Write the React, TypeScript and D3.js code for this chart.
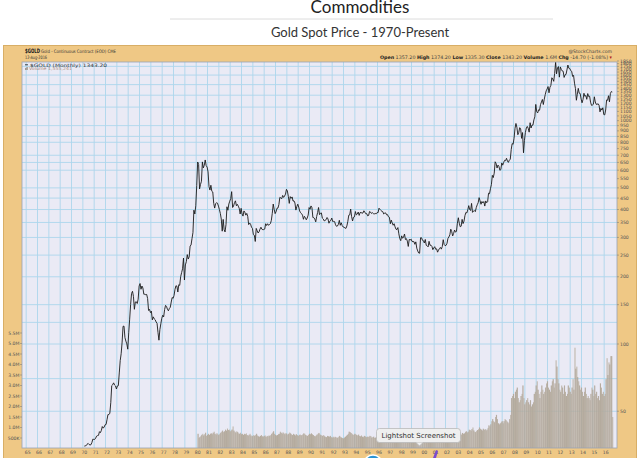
import React from "react";
import * as d3 from "d3";

// Monthly closes, $/oz (each array starts in January of its decade)
const gold1970s = [
  34.9, 35.0, 35.1, 35.6, 35.9, 35.5, 35.3, 35.4, 36.2, 37.5, 37.4, 37.4,
  37.9, 38.7, 38.9, 39.0, 40.5, 40.1, 41.0, 42.7, 42.0, 42.5, 43.5, 43.6,
  45.8, 48.3, 48.3, 49.0, 54.6, 65.1, 65.7, 67.0, 65.5, 64.9, 62.9, 64.9,
  65.1, 74.2, 84.4, 90.5, 102.0, 120.0, 120.2, 106.8, 103.0, 100.1, 94.8, 112.3,
  129.2, 150.2, 168.4, 172.2, 163.3, 143.0, 154.1, 154.6, 151.8, 158.8, 181.8, 186.5,
  175.8, 181.8, 178.2, 167.0, 167.0, 166.3, 166.7, 159.8, 141.3, 142.9, 138.2, 140.3,
  128.2, 132.3, 129.6, 128.4, 125.5, 123.8, 112.5, 104.0, 116.0, 123.2, 130.3, 134.5,
  132.3, 142.8, 148.9, 147.3, 143.0, 140.8, 144.1, 146.0, 154.1, 161.5, 160.1, 164.9,
  175.8, 182.3, 181.6, 170.9, 184.2, 183.1, 200.3, 208.7, 217.1, 242.6, 193.4, 226.0,
  233.7, 251.3, 240.1, 245.3, 274.6, 277.5, 296.5, 315.1, 397.3, 382.0, 415.7, 512.0,
];
const gold1980s = [
  653.0, 637.0, 494.5, 518.0, 535.5, 653.5, 614.3, 631.3, 666.8, 629.0, 619.8, 589.8,
  506.5, 489.0, 513.8, 482.8, 479.3, 426.0, 406.0, 425.5, 428.8, 427.0, 414.5, 400.0,
  384.3, 362.6, 320.0, 361.3, 325.3, 317.5, 342.8, 411.5, 397.0, 423.3, 436.0, 448.0,
  481.0, 408.5, 414.8, 429.3, 437.5, 416.0, 422.0, 414.3, 405.0, 382.0, 405.0, 382.0,
  373.8, 394.3, 388.5, 377.5, 384.3, 373.1, 342.4, 348.3, 343.8, 333.5, 329.0, 309.0,
  306.7, 287.8, 329.3, 321.4, 314.0, 317.8, 327.0, 333.3, 326.5, 325.1, 325.3, 327.0,
  345.5, 339.3, 345.5, 340.1, 342.5, 345.8, 357.5, 384.7, 423.2, 401.0, 383.5, 391.0,
  405.5, 405.9, 421.0, 453.3, 451.0, 447.3, 462.5, 453.4, 459.5, 468.8, 492.5, 484.1,
  458.0, 426.2, 457.0, 449.0, 455.5, 436.6, 437.4, 427.8, 397.7, 412.4, 422.6, 410.3,
  394.0, 387.0, 383.2, 377.6, 361.8, 373.0, 368.3, 359.8, 366.5, 377.6, 408.2, 401.0,
];
const gold1990s = [
  415.1, 407.7, 368.5, 367.8, 363.1, 352.2, 372.3, 387.8, 408.4, 379.5, 384.9, 386.2,
  366.0, 362.7, 355.7, 357.8, 360.4, 368.4, 362.9, 347.4, 354.9, 358.0, 366.3, 353.2,
  354.1, 353.1, 341.7, 336.4, 337.5, 343.4, 357.9, 340.0, 349.0, 339.3, 334.2, 333.3,
  330.5, 329.4, 337.8, 354.3, 377.3, 378.5, 401.8, 371.6, 355.5, 369.6, 370.9, 391.8,
  378.6, 381.6, 389.8, 376.5, 387.6, 388.3, 384.9, 386.0, 394.9, 389.1, 383.1, 383.3,
  374.9, 376.4, 392.0, 389.8, 384.3, 387.1, 383.4, 382.4, 384.0, 382.7, 387.8, 387.0,
  405.6, 400.7, 396.4, 392.9, 391.3, 382.0, 385.3, 386.5, 379.0, 379.5, 371.3, 369.3,
  345.5, 358.6, 348.2, 340.2, 345.6, 334.6, 326.4, 325.4, 332.1, 311.4, 296.8, 290.2,
  304.9, 297.4, 301.0, 310.7, 293.6, 296.3, 288.9, 273.4, 293.9, 292.3, 294.7, 287.8,
  287.1, 287.3, 279.5, 286.6, 268.6, 261.0, 255.6, 254.8, 299.0, 299.1, 291.4, 290.3,
];
const gold2000s = [
  283.3, 293.7, 276.8, 275.1, 272.3, 288.2, 276.8, 277.0, 273.7, 264.5, 269.1, 272.7,
  265.6, 266.7, 257.7, 263.2, 267.5, 270.6, 265.9, 273.0, 293.1, 279.0, 275.5, 276.5,
  282.3, 296.9, 301.4, 308.2, 326.6, 318.5, 304.7, 312.8, 323.7, 316.9, 319.1, 347.2,
  367.5, 347.5, 334.9, 336.8, 361.4, 346.0, 354.8, 375.6, 388.0, 386.3, 398.4, 416.3,
  400.0, 395.9, 426.0, 388.5, 393.3, 395.8, 391.4, 408.4, 420.1, 429.0, 452.1, 438.0,
  422.2, 434.5, 428.1, 434.3, 414.5, 437.1, 429.0, 433.3, 473.3, 470.8, 495.7, 517.0,
  568.8, 556.0, 582.0, 654.5, 643.0, 613.5, 632.5, 623.5, 599.3, 603.8, 646.7, 632.0,
  650.5, 664.2, 661.8, 678.5, 659.1, 650.5, 665.5, 672.0, 743.0, 789.5, 783.5, 833.8,
  923.3, 971.5, 933.5, 865.0, 885.8, 930.3, 918.0, 833.0, 884.5, 718.0, 816.1, 884.3,
  927.3, 942.0, 924.0, 888.2, 978.8, 927.0, 955.5, 955.5, 1008.0, 1040.5, 1182.0, 1096.5,
];
const gold2010s = [
  1083, 1118, 1113, 1180, 1212, 1244, 1181, 1248, 1307, 1359, 1386, 1421,
  1333, 1411, 1439, 1556, 1536, 1500, 1628, 1828, 1620, 1722, 1746, 1566,
  1740, 1697, 1669, 1664, 1561, 1604, 1610, 1687, 1774, 1717, 1712, 1675,
  1663, 1578, 1595, 1472, 1393, 1234, 1313, 1395, 1327, 1323, 1250, 1202,
  1244, 1326, 1284, 1296, 1246, 1322, 1282, 1287, 1210, 1171, 1175, 1184,
  1279, 1212, 1183, 1184, 1190, 1172, 1095, 1135, 1115, 1142, 1065, 1061,
  1116, 1238, 1234, 1293, 1214, 1322, 1350, 1343.2,
];

// Monthly volume, thousands of contracts (starting January 1980)
const vol1980s = [
  700, 500, 550, 600, 650, 700, 620, 680, 750, 600, 650, 700,
  650, 700, 720, 680, 750, 800, 700, 650, 720, 680, 640, 700,
  750, 800, 850, 780, 820, 900, 850, 950, 880, 900, 820, 860,
  900, 1050, 850, 800, 760, 820, 780, 720, 700, 750, 680, 700,
  650, 700, 680, 720, 640, 600, 650, 700, 620, 580, 600, 640,
  600, 650, 700, 620, 580, 560, 600, 640, 580, 560, 600, 620,
  550, 600, 580, 620, 600, 640, 700, 760, 820, 700, 650, 620,
  640, 680, 700, 800, 750, 700, 760, 720, 680, 740, 700, 650,
  700, 760, 720, 680, 640, 700, 660, 620, 680, 640, 600, 640,
  660, 620, 640, 680, 720, 700, 640, 620, 600, 650, 700, 680,
];
const vol1990s = [
  720, 680, 640, 600, 580, 620, 660, 700, 740, 680, 640, 620,
  600, 640, 580, 560, 540, 600, 580, 560, 600, 540, 520, 560,
  520, 560, 540, 500, 520, 560, 600, 540, 520, 500, 480, 520,
  560, 600, 650, 700, 800, 780, 740, 700, 660, 640, 700, 680,
  640, 620, 660, 600, 580, 620, 560, 540, 600, 580, 540, 560,
  560, 540, 600, 580, 520, 540, 560, 500, 520, 540, 480, 500,
  560, 600, 520, 500, 480, 520, 500, 480, 460, 500, 480, 460,
  520, 560, 500, 480, 520, 540, 580, 500, 480, 560, 520, 500,
  560, 520, 500, 480, 460, 500, 480, 540, 560, 520, 480, 500,
  520, 480, 460, 500, 560, 600, 580, 540, 700, 640, 560, 500,
];
const vol2000s = [
  540, 600, 520, 480, 460, 500, 460, 440, 480, 460, 500, 520,
  500, 480, 460, 520, 540, 500, 480, 520, 600, 520, 500, 540,
  560, 620, 600, 640, 700, 680, 640, 600, 660, 620, 600, 720,
  800, 760, 700, 660, 740, 700, 720, 780, 820, 760, 800, 900,
  880, 840, 920, 1000, 860, 800, 780, 840, 880, 920, 1000, 940,
  900, 860, 940, 880, 920, 860, 900, 980, 1100, 1050, 1150, 1300,
  1400, 1300, 1250, 1500, 1600, 1400, 1200, 1150, 1200, 1250, 1300, 1200,
  1300, 1400, 1350, 1300, 1250, 1200, 1400, 1600, 2400, 2500, 2600, 2400,
  2700, 2800, 2900, 2400, 2200, 2300, 2500, 2600, 3000, 2400, 2100, 2200,
  2300, 2400, 2200, 2100, 2300, 2000, 2100, 2200, 2600, 2700, 3000, 3200,
];
const vol2010s = [
  2800, 2600, 2400, 2700, 3000, 2800, 2600, 2700, 2900, 3100, 3200, 2900,
  2800, 2700, 3000, 3200, 3300, 2900, 3100, 4200, 3900, 3300, 3100, 2800,
  2700, 3000, 2900, 2600, 3000, 2700, 2500, 2600, 3000, 2900, 2700, 2600,
  2900, 3300, 2800, 4800, 3800, 3900, 3400, 3200, 3000, 2800, 2900, 2700,
  2500, 2700, 2900, 2600, 2400, 2500, 2400, 2300, 2600, 2900, 2800, 2500,
  3000, 2600, 2700, 2400, 2500, 2300, 3100, 2900, 2600, 2700, 2500, 2600,
  3300, 4300, 3500, 4100, 4000, 4400, 4400, 1500,
];

const priceTicks = [
  1850, 1800, 1750, 1700, 1650, 1600, 1550, 1500, 1450, 1400, 1350, 1300, 1250,
  1200, 1150, 1100, 1050, 1000, 950, 900, 850, 800, 750, 700, 650, 600, 550, 500,
  450, 400, 350, 300, 250, 200, 150, 100, 50,
];
const priceGrid = [50, 70, 100, 125, 150, 200, 250, 300, 350, 400, 450, 500, 600, 650, 700, 800, 850, 950, 1150, 1300, 1450, 1600, 1750];
const volTicks = [500000, 1000000, 1500000, 2000000, 2500000, 3000000, 3500000, 4000000, 4500000, 5000000, 5500000];
const volTickLabels = ["500K", "1.0M", "1.5M", "2.0M", "2.5M", "3.0M", "3.5M", "4.0M", "4.5M", "5.0M", "5.5M"];
const yearTicks = d3.range(1965, 2017);

const W = 640, H = 458;
const L = 22, R = 617, T = 62, B = 448;

export default function App() {
  const x = d3.scaleLinear().domain([1964.5, 2017]).range([L, R]);
  const y = d3.scaleLog().domain([100, 1000]).range([344, 344 - 97 * Math.LN10]);
  const yv = d3.scaleLinear().domain([0, 5500000]).range([448.5, 448.5 - 5.5 * 21]);

  const prices = [...gold1970s, ...gold1980s, ...gold1990s, ...gold2000s, ...gold2010s];
  const pts = prices.map((p, i) => [1970 + i / 12, p] as [number, number]);
  const vols = [...vol1980s, ...vol1990s, ...vol2000s, ...vol2010s];

  const line = d3.line<[number, number]>().x(d => x(d[0])).y(d => y(d[1]));
  const font = "'DejaVu Sans', Verdana, sans-serif";
  const grid = "#add6ec";

  return (
    <svg width={W} height={H} style={{ position: "absolute", left: 0, top: 0, background: "#fff" }}>
      <defs>
        <clipPath id="plot"><rect x={L} y={T} width={R - L} height={B - T} /></clipPath>
      </defs>
      {/* page header */}
      <text x={360} y={13} textAnchor="middle" fontFamily="Lato, 'Open Sans', sans-serif" fontSize={17} fill="#222">Commodities</text>
      <line x1={170} x2={553} y1={19} y2={19} stroke="#dcdcdc" strokeWidth={1} />
      <text x={360} y={37} textAnchor="middle" fontFamily="Lato, 'Open Sans', sans-serif" fontSize={13} fill="#333">Gold Spot Price - 1970-Present</text>

      {/* StockCharts frame */}
      <rect x={3.5} y={45.5} width={633} height={420} fill="#efc885" stroke="#d8ae66" strokeWidth={1} />
      <rect x={L} y={T} width={R - L} height={B - T} fill="#eaeaf5" />

      {/* grid */}
      <g clipPath="url(#plot)">
        {yearTicks.map(yr => (
          <line key={yr} x1={x(yr) - 1.5} x2={x(yr) - 1.5} y1={T} y2={B} stroke={grid} strokeWidth={0.9} />
        ))}
        {priceGrid.map(p => (
          <line key={p} x1={L} x2={R} y1={y(p)} y2={y(p)} stroke={grid} strokeWidth={0.9} />
        ))}
        {/* volume bars */}
        {vols.map((v, i) => {
          const t = 1980 + i / 12;
          const top = yv(v * 1000);
          return <rect key={i} x={x(t)} y={top} width={0.95} height={B - top} fill="#b9afa1" />;
        })}
        {vols.map((v, i) => {
          const t = 1980 + i / 12;
          const top = yv(v * 1000);
          return i % 2 === 0 ? <line key={"e" + i} x1={x(t) + 0.2} x2={x(t) + 0.2} y1={top} y2={B} stroke="#a3988a" strokeWidth={0.35} /> : null;
        })}
        <path d={line(pts) || ""} fill="none" stroke="#1a1a1a" strokeWidth={0.9} strokeLinejoin="round" />
      </g>
      <rect x={L} y={T} width={R - L} height={B - T} fill="none" stroke="#9aa3b5" strokeWidth={0.8} />

      {/* header texts */}
      <text x={25} y={52.8} fontFamily={font} fontSize={6.2} fontWeight="bold" fill="#222" textLength={15} lengthAdjust="spacingAndGlyphs">$GOLD</text>
      <text x={41} y={52.8} fontFamily={font} fontSize={4.6} fill="#333" textLength={75} lengthAdjust="spacingAndGlyphs">Gold - Continuous Contract (EOD) CME</text>
      <text x={25} y={58.6} fontFamily={font} fontSize={4.6} fill="#333" textLength={22} lengthAdjust="spacingAndGlyphs">12-Aug-2016</text>
      <text x={612} y={53} textAnchor="end" fontFamily={font} fontSize={4.6} fill="#444">@StockCharts.com</text>
      <text x={612} y={59} textAnchor="end" fontFamily={font} fontSize={4.8} fill="#444">
        <tspan fontWeight="bold" fill="#222">Open</tspan> 1357.20 <tspan fontWeight="bold" fill="#222">High</tspan> 1374.20 <tspan fontWeight="bold" fill="#222">Low</tspan> 1335.30 <tspan fontWeight="bold" fill="#222">Close</tspan> 1343.20 <tspan fontWeight="bold" fill="#222">Volume</tspan> 1.6M <tspan fontWeight="bold" fill="#222">Chg</tspan> -14.70 (-1.08%) <tspan fill="#b02020">▾</tspan>
      </text>

      {/* legend */}
      <line x1={25} x2={28} y1={64.8} y2={64.8} stroke="#111" strokeWidth={0.8} />
      <text x={30} y={66.6} fontFamily={font} fontSize={4.6} fill="#333" textLength={77} lengthAdjust="spacingAndGlyphs">$GOLD (Monthly) 1343.20</text>
      <rect x={25.3} y={68} width={1} height={2} fill="#8a7a66" />
      <rect x={26.6} y={67} width={1} height={3} fill="#8a7a66" />
      <text x={29} y={70.4} fontFamily={font} fontSize={4.4} fill="#b08a78" textLength={43} lengthAdjust="spacingAndGlyphs">Volume 1,555,241</text>

      {/* right price axis */}
      {priceTicks.map(p => (
        <g key={p}>
          <line x1={R} x2={R + 2} y1={y(p)} y2={y(p)} stroke="#777" strokeWidth={0.5} />
          <text x={R + 3} y={y(p) + 1.6} fontFamily={font} fontSize={4.6} fill="#555">{p}</text>
        </g>
      ))}

      {/* left volume axis */}
      {volTicks.map((v, i) => (
        <g key={v}>
          <line x1={L - 2} x2={L} y1={yv(v)} y2={yv(v)} stroke="#777" strokeWidth={0.5} />
          <text x={L - 2.5} y={yv(v) + 1.6} textAnchor="end" fontFamily={font} fontSize={4.6} fill="#555">{volTickLabels[i]}</text>
        </g>
      ))}

      {/* x axis */}
      {yearTicks.map(yr => (
        <text key={yr} x={x(yr)} y={454} textAnchor="middle" fontFamily={font} fontSize={4.6} fill="#555">
          {String(yr % 100).padStart(2, "0")}
        </text>
      ))}

      {/* screenshot tool overlay */}
      <circle cx={373} cy={464} r={9} fill="#2a93d5" stroke="#fff" strokeWidth={1.5} />
      <path d="M433 458 L436 450 L438 451 L436 458 Z" fill="#7b4bd0" />
      <g>
        <rect x={376.5} y={428.5} width={84} height={14} rx={3} fill="#efefef" stroke="#b9b9b9" strokeWidth={0.8} />
        <path d="M416 442.5 L419.5 446 L423 442.5" fill="#efefef" stroke="#b9b9b9" strokeWidth={0.8} />
        <text x={418.5} y={438.3} textAnchor="middle" fontFamily="'DejaVu Sans', sans-serif" fontSize={7} fill="#333">Lightshot Screenshot</text>
      </g>
    </svg>
  );
}
